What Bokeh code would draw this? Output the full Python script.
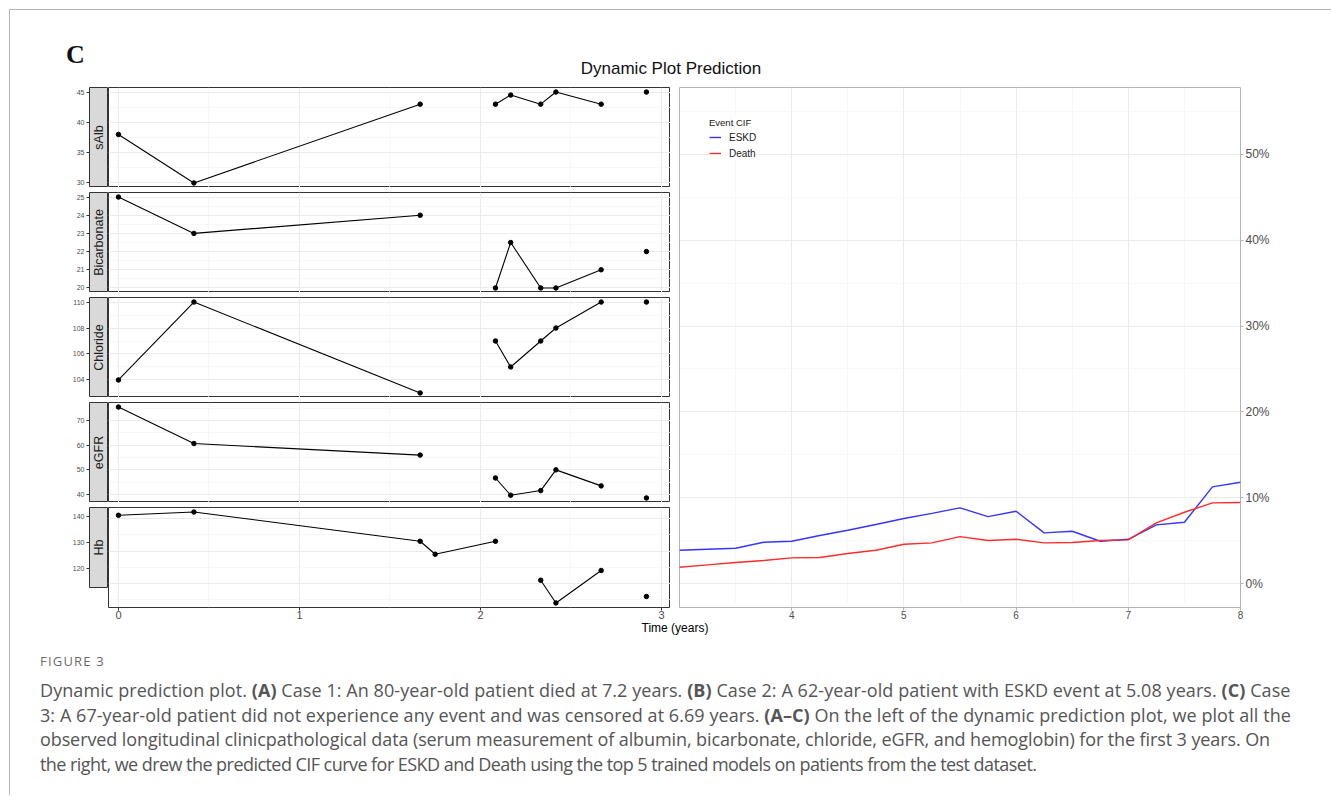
import numpy as np
from bokeh.plotting import figure
from bokeh.layouts import column, row
from bokeh.models import (Range1d, FixedTicker, Grid, NumeralTickFormatter, Legend,
                          LegendItem, Div, ColumnDataSource)
from bokeh.core.properties import value
from bokeh.embed import file_html
from bokeh.resources import INLINE

NaN = float("nan")

# ---------------- data ----------------
visit_years = [0.0, 0.417, 1.667, 1.75, 2.083, 2.167, 2.333, 2.417, 2.667, 2.833, 2.917]
salb = [38, 30, 43, NaN, 43, 44.5, 43, 45, 43, NaN, 45]
bicarbonate = [25, 23, 24, NaN, 20, 22.5, 20, 20, 21, NaN, 22]
chloride = [104, 110, 103, NaN, 107, 105, 107, 108, 110, NaN, 110]
egfr = [75.5, 60.7, 56, NaN, 46.7, 39.7, 41.6, 50, 43.5, NaN, 38.6]
hb = [141, 142, 133, 129, 133, NaN, 121, 114, 124, NaN, 116]

panel_names = ["sAlb", "Bicarbonate", "Chloride", "eGFR", "Hb"]
salb_ticks = [30, 35, 40, 45]
bicarbonate_ticks = [20, 21, 22, 23, 24, 25]
chloride_ticks = [104, 106, 108, 110]
egfr_ticks = [40, 50, 60, 70]
hb_ticks = [120, 130, 140]
time_ticks = [0, 1, 2, 3]

cif_years = [3.0, 3.25, 3.5, 3.75, 4.0, 4.25, 4.5, 4.75, 5.0, 5.25, 5.5, 5.75, 6.0,
             6.25, 6.5, 6.75, 7.0, 7.25, 7.5, 7.75, 8.0]
eskd_cif = [0.0391, 0.0403, 0.0415, 0.0484, 0.0496, 0.0562, 0.0624, 0.0690, 0.0760,
            0.0820, 0.0884, 0.0783, 0.0845, 0.0593, 0.0612, 0.0496, 0.0519, 0.0686,
            0.0717, 0.1128, 0.1182]
death_cif = [0.0194, 0.0221, 0.0248, 0.0271, 0.0302, 0.0306, 0.0353, 0.0391, 0.0461,
             0.0477, 0.0550, 0.0504, 0.0519, 0.0477, 0.0481, 0.0504, 0.0512, 0.0709,
             0.0833, 0.0942, 0.0946]
cif_ticks = [0.0, 0.1, 0.2, 0.3, 0.4, 0.5]
cif_limits = [0.0, 0.55]
cif_time_ticks = [4, 5, 6, 7, 8]
cif_time_limits = [3, 8]
legend_labels = ["ESKD", "Death"]

# ---------------- style ----------------
FONT = "Liberation Sans"
DARK = "#333333"
LABEL = "#4D4D4D"
GRID = "#EBEBEB"
GRID_MINOR = "#F4F4F4"


def limits(vals, mult=0.05):
    a = np.array(vals, dtype=float)
    lo, hi = np.nanmin(a), np.nanmax(a)
    pad = (hi - lo) * mult
    return lo - pad, hi + pad


def halves(ticks):
    step = ticks[1] - ticks[0]
    return [ticks[0] - step / 2] + [t + step / 2 for t in ticks]


def clean_grids(p):
    p.center = [c for c in p.center if not isinstance(c, Grid)]


def add_grid(p, dim, ticks, minor, color=GRID, mcolor=GRID_MINOR):
    p.add_layout(Grid(dimension=dim, ticker=FixedTicker(ticks=ticks, minor_ticks=minor),
                      grid_line_color=color, grid_line_width=1,
                      minor_grid_line_color=mcolor, minor_grid_line_width=0.7), "center")


def style_axis(ax, ticks, size, tick_color):
    ax.ticker = FixedTicker(ticks=ticks)
    ax.axis_line_color = None
    ax.major_tick_out = 3
    ax.major_tick_in = 0
    ax.minor_tick_out = 0
    ax.minor_tick_in = 0
    ax.major_tick_line_color = tick_color
    ax.major_label_standoff = 1
    ax.major_label_text_font = FONT
    ax.major_label_text_font_size = size
    ax.major_label_text_color = LABEL


x_left = Range1d(-0.055, 3.05)


def make_panel(name, vals, ticks, bottom):
    lo, hi = limits(vals)
    yr = Range1d(lo, hi)
    strip = figure(width=98, height=100, x_range=Range1d(0, 1), y_range=yr,
                   x_axis_location=None, y_axis_location="left",
                   toolbar_location=None, output_backend="svg",
                   min_border_left=79, min_border_right=0, min_border_top=0,
                   min_border_bottom=0, background_fill_color="#D9D9D9",
                   outline_line_color=DARK, outline_line_width=1)
    clean_grids(strip)
    style_axis(strip.yaxis[0], ticks, "7px", DARK)
    strip.yaxis[0].major_label_standoff = 2
    strip.text(x=[0.5], y=[(lo + hi) / 2], text=[name], angle=np.pi / 2,
               text_align="center", text_baseline="middle",
               text_font=value(FONT), text_font_size="12.5px", text_color="#1A1A1A")

    d = figure(width=562, height=120 if bottom else 100, x_range=x_left, y_range=yr,
               x_axis_location="below" if bottom else None, y_axis_location=None,
               toolbar_location=None, output_backend="svg",
               min_border_left=0, min_border_right=0, min_border_top=0,
               min_border_bottom=20 if bottom else 0,
               outline_line_color=DARK, outline_line_width=1)
    clean_grids(d)
    add_grid(d, 0, time_ticks, halves(time_ticks))
    add_grid(d, 1, ticks, halves(ticks))
    src = ColumnDataSource(dict(t=visit_years, v=vals))
    d.line("t", "v", source=src, line_color="black", line_width=1.1)
    d.scatter("t", "v", source=src, size=4.5, color="black")
    if bottom:
        style_axis(d.xaxis[0], time_ticks, "11px", DARK)
        d.xaxis[0].major_label_standoff = 0
    return row(strip, d, spacing=0)


series = [salb, bicarbonate, chloride, egfr, hb]
tick_sets = [salb_ticks, bicarbonate_ticks, chloride_ticks, egfr_ticks, hb_ticks]
panels = [make_panel(n, v, t, i == len(series) - 1)
          for i, (n, v, t) in enumerate(zip(panel_names, series, tick_sets))]
left_col = column(*panels, spacing=5)

# ---------------- right CIF plot ----------------
span = cif_limits[1] - cif_limits[0]
r = figure(width=652, height=540,
           x_range=Range1d(*cif_time_limits),
           y_range=Range1d(cif_limits[0] - 0.05 * span, cif_limits[1] + 0.05 * span),
           x_axis_location="below", y_axis_location="right",
           toolbar_location=None, output_backend="svg",
           min_border_left=9, min_border_right=82, min_border_top=0, min_border_bottom=20,
           outline_line_color="#B3B3B3", outline_line_width=1)
clean_grids(r)
add_grid(r, 0, cif_time_ticks, halves(cif_time_ticks), color="#EBEBEB", mcolor="#F5F5F5")
add_grid(r, 1, cif_ticks, halves(cif_ticks), color="#EBEBEB", mcolor="#F5F5F5")
l1 = r.line(cif_years, eskd_cif, line_color="#3535FF", line_width=1.4)
l2 = r.line(cif_years, death_cif, line_color="#FF2B2B", line_width=1.4)
style_axis(r.xaxis[0], cif_time_ticks, "10px", "#B3B3B3")
r.xaxis[0].major_label_standoff = 0
style_axis(r.yaxis[0], cif_ticks, "12px", "#B3B3B3")
r.yaxis[0].major_label_standoff = 2
r.yaxis[0].formatter = NumeralTickFormatter(format="0%")

leg = Legend(items=[LegendItem(label=legend_labels[0], renderers=[l1]),
                    LegendItem(label=legend_labels[1], renderers=[l2])],
             title="Event CIF", location="top_left", margin=30, padding=9,
             glyph_width=12, glyph_height=14, label_height=14, label_standoff=8,
             spacing=2, title_standoff=2,
             label_text_font=FONT, label_text_font_size="10px", label_text_color="#1A1A1A",
             title_text_font=FONT, title_text_font_size="9.5px",
             title_text_font_style="normal", title_text_color="#1A1A1A",
             background_fill_color="white", background_fill_alpha=1,
             border_line_color=None)
r.add_layout(leg)

main = row(left_col, r, spacing=0)

# ---------------- texts ----------------
W = 1321
header = Div(width=W, height=77, margin=0, text=(
    f'<div style="position:relative;width:{W}px;height:77px;">'
    '<div style="position:absolute;left:56px;top:32px;font-family:\'Liberation Serif\';'
    'font-weight:bold;font-size:26px;line-height:26px;color:#111;">C</div>'
    '<div style="position:absolute;left:471px;width:380px;top:50px;text-align:center;'
    'font-family:\'Liberation Sans\';font-size:17px;line-height:17px;color:#111;">'
    'Dynamic Plot Prediction</div></div>'))

caption_lines = [
    'Dynamic prediction plot. <b>(A)</b> Case 1: An 80-year-old patient died at 7.2 years. '
    '<b>(B)</b> Case 2: A 62-year-old patient with ESKD event at 5.08 years. <b>(C)</b> Case',
    '3: A 67-year-old patient did not experience any event and was censored at 6.69 years. '
    '<b>(A–C)</b> On the left of the dynamic prediction plot, we plot all the',
    'observed longitudinal clinicpathological data (serum measurement of albumin, bicarbonate, '
    'chloride, eGFR, and hemoglobin) for the first 3 years. On',
    'the right, we drew the predicted CIF curve for ESKD and Death using the top 5 trained '
    'models on patients from the test dataset.',
]
line_tops = [51, 75.5, 100, 124.5]
line_spacing = [0.07, 0.06, -0.1, -0.55]
cap_html = ''.join(
    f'<div style="position:absolute;left:30px;top:{t}px;white-space:nowrap;'
    f'font-family:\'Open Sans\';font-size:18px;line-height:24.5px;color:#555;'
    f'letter-spacing:{ls}px;">{s}</div>'
    for s, t, ls in zip(caption_lines, line_tops, line_spacing))
footer = Div(width=W, height=168, margin=0, text=(
    f'<div style="position:relative;width:{W}px;height:168px;">'
    '<div style="position:absolute;left:565px;width:200px;top:-5px;text-align:center;'
    'font-family:\'Liberation Sans\';font-size:12px;line-height:12px;color:#000;">'
    'Time (years)</div>'
    '<div style="position:absolute;left:30px;top:28px;font-family:\'Open Sans\';'
    'font-size:13px;line-height:13px;letter-spacing:1.2px;color:#6B6B6B;">FIGURE 3</div>'
    + cap_html + '</div>'))

root = column(header, main, footer, spacing=0, margin=(9, 0, 0, 9),
              styles={"border-top": "1px solid #B5B5B5", "border-left": "1px solid #B5B5B5"})

open("out.html", "w").write(file_html(root, INLINE))
